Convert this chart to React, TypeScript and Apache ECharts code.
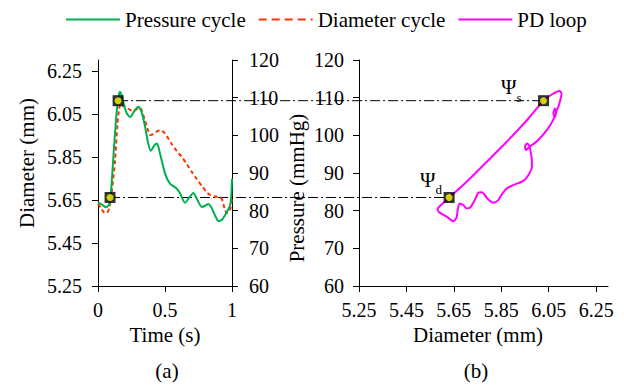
import React, { useEffect, useRef } from "react";
import * as echarts from "echarts";

// ---------- data ----------
const legendNames = ["Pressure cycle", "Diameter cycle", "PD loop"];

const pressureTime = [0, 0.03, 0.06, 0.085, 0.1, 0.12, 0.14, 0.155, 0.165, 0.175, 0.19, 0.215, 0.24, 0.27, 0.3, 0.325, 0.35, 0.375, 0.395, 0.42, 0.44, 0.46, 0.5, 0.537, 0.587, 0.612, 0.649, 0.68, 0.711, 0.74, 0.774, 0.8, 0.823, 0.85, 0.875, 0.9, 0.925, 0.948, 0.975, 0.987, 0.995, 1.0];
const pressureValues = [82.2, 81.6, 80.9, 81.8, 86.5, 97, 106.5, 110.6, 111.6, 110.8, 108.7, 105.8, 104.9, 106.4, 107.6, 106.2, 102.5, 97.8, 95.9, 97.3, 97.8, 95.6, 89.9, 87.2, 85.9, 84.6, 82.1, 83.4, 84.7, 83.0, 81.0, 81.3, 81.8, 80.6, 78.6, 77.2, 77.6, 78.8, 80.5, 81.6, 84.3, 88.5];

const diameterTime = [0, 0.025, 0.045, 0.065, 0.085, 0.105, 0.127, 0.145, 0.158, 0.17, 0.19, 0.214, 0.24, 0.264, 0.29, 0.313, 0.33, 0.351, 0.37, 0.388, 0.41, 0.44, 0.463, 0.49, 0.512, 0.55, 0.587, 0.625, 0.662, 0.7, 0.737, 0.775, 0.811, 0.84, 0.873, 0.9, 0.923, 0.945, 0.96, 0.978, 0.99, 1.0];
const diameterValues = [5.632, 5.61, 5.592, 5.589, 5.615, 5.7, 5.832, 6.0, 6.075, 6.097, 6.085, 6.078, 6.068, 6.063, 6.072, 6.078, 6.06, 6.017, 5.98, 5.952, 5.955, 5.968, 5.974, 5.965, 5.947, 5.91, 5.878, 5.85, 5.817, 5.78, 5.747, 5.715, 5.686, 5.672, 5.666, 5.662, 5.655, 5.61, 5.589, 5.595, 5.616, 5.655];

const loopDiameter = [5.627, 5.704, 5.789, 5.873, 5.958, 6.028, 6.07, 6.095, 6.104, 6.091, 6.084, 6.076, 6.07, 6.076, 6.081, 6.064, 6.042, 6.005, 5.979, 5.967, 5.955, 5.95, 5.959, 5.969, 5.974, 5.979, 5.979, 5.964, 5.943, 5.901, 5.873, 5.853, 5.837, 5.817, 5.793, 5.768, 5.754, 5.738, 5.719, 5.704, 5.689, 5.674, 5.666, 5.662, 5.648, 5.62, 5.588, 5.581, 5.596, 5.627];
const loopPressure = [83.3, 87.7, 93.0, 98.3, 104.0, 109.2, 111.1, 111.8, 111.1, 107.6, 106.7, 104.8, 105.9, 107.1, 106.2, 103.5, 101.4, 98.7, 97.4, 96.9, 96.1, 97.0, 97.8, 97.1, 95.5, 93.4, 91.6, 89.4, 87.9, 86.8, 85.9, 84.4, 82.8, 82.1, 83.1, 84.9, 84.8, 82.8, 80.8, 80.6, 81.5, 81.9, 80.2, 78.3, 77.2, 78.4, 79.6, 80.4, 81.5, 83.3];

// characteristic points: [diastolic, systolic]
const psiSubscripts = ["d", "s"];
const psiTime = [0.09, 0.15];
const psiPressure = [83.5, 109.2];
const psiDiameter = [5.63, 6.028];

const diameterTicks = [5.25, 5.45, 5.65, 5.85, 6.05, 6.25];
const panelLabels = ["(a)", "(b)"];

// ---------- style ----------
const FONT = "Liberation Serif";
const GREEN = "#00B050";
const RED = "#FF3300";
const MAGENTA = "#FF00FF";

const zip = (a: number[], b: number[]) => a.map((v, i) => [v, b[i]]);

const tickRich = { t: { color: "#000", fontFamily: FONT, fontSize: 20, fontWeight: "normal" as const } };
const nameRich = { t: { color: "#000", fontFamily: FONT, fontSize: 21, fontWeight: "normal" as const } };
const wrap = (s: string) => `{t|${s}}`;

const baseAxis = (gridIndex: number) => ({
  gridIndex,
  type: "value" as const,
  axisLine: { show: true, onZero: false, lineStyle: { color: "#000", width: 1 } },
  axisTick: { show: true, inside: false, length: 6, lineStyle: { color: "#000", width: 1 } },
  splitLine: { show: false },
});

const tickLabel = (margin: number, decimals: number | null, custom?: number[]) => ({
  margin,
  color: "#000",
  fontFamily: FONT,
  fontSize: 20,
  rich: tickRich,
  ...(custom ? { customValues: custom } : {}),
  formatter: (v: number) => wrap(decimals === null ? String(v) : v.toFixed(decimals)),
});

const axisName = (padding: number[]) => ({
  color: "#000",
  fontFamily: FONT,
  fontSize: 21,
  fontWeight: "normal" as const,
  padding,
  rich: nameRich,
});

export default function App() {
  const ref = useRef<HTMLDivElement>(null);

  useEffect(() => {
    if (!ref.current) return;
    const chart = echarts.init(ref.current, undefined, { renderer: "svg" });

    const markerSeries = (xAxisIndex: number, yAxisIndex: number, xs: number[]) => [
      {
        type: "scatter",
        xAxisIndex,
        yAxisIndex,
        symbol: "rect",
        symbolSize: 11,
        itemStyle: { color: "#000" },
        z: 5,
        data: zip(xs, psiPressure),
      },
      {
        type: "scatter",
        xAxisIndex,
        yAxisIndex,
        symbol: "circle",
        symbolSize: 7,
        itemStyle: { color: "#FFFF00" },
        z: 6,
        data: zip(xs, psiPressure),
      },
    ];

    const option: any = {
      animation: false,
      textStyle: { fontFamily: FONT },
      legend: {
        left: 65,
        top: 9,
        padding: 0,
        itemWidth: 54,
        itemHeight: 14,
        itemGap: 12,
        itemStyle: { opacity: 0 },
        formatter: (n: string) => wrap(n),
        textStyle: { color: "#000", fontFamily: FONT, fontSize: 21, rich: nameRich },
        data: [
          { name: legendNames[0] },
          { name: legendNames[1], lineStyle: { type: [8, 5] } },
          { name: legendNames[2] },
        ],
      },
      grid: [
        { left: 98, top: 60, width: 134, height: 226 },
        { left: 359, top: 60, width: 249, height: 226 },
      ],
      xAxis: [
        {
          ...baseAxis(0),
          min: 0,
          max: 1,
          interval: 0.5,
          axisLabel: tickLabel(14, null),
          name: wrap("Time (s)"),
          nameLocation: "middle",
          nameGap: 36,
          nameTextStyle: axisName([0, 0, 0, 0]),
        },
        {
          ...baseAxis(1),
          min: 5.25,
          max: 6.3,
          axisTick: { ...baseAxis(1).axisTick, customValues: diameterTicks },
          axisLabel: tickLabel(14, 2, diameterTicks),
          name: wrap("Diameter (mm)"),
          nameLocation: "middle",
          nameGap: 36,
          nameTextStyle: axisName([0, 11, 0, 0]),
        },
      ],
      yAxis: [
        {
          ...baseAxis(0),
          position: "left",
          min: 5.25,
          max: 6.3,
          axisTick: { ...baseAxis(0).axisTick, customValues: diameterTicks },
          axisLabel: tickLabel(16, 2, diameterTicks),
          name: wrap("Diameter (mm)"),
          nameLocation: "middle",
          nameGap: 61,
          nameTextStyle: axisName([0, 0, 0, 20]),
        },
        {
          ...baseAxis(0),
          position: "right",
          min: 60,
          max: 120,
          interval: 10,
          axisLabel: tickLabel(17, null),
        },
        {
          ...baseAxis(1),
          position: "left",
          min: 60,
          max: 120,
          interval: 10,
          axisLabel: tickLabel(15, null),
          name: wrap("Pressure (mmHg)"),
          nameLocation: "middle",
          nameGap: 52,
          nameTextStyle: axisName([0, 30, 0, 0]),
        },
      ],
      series: [
        {
          name: legendNames[0],
          type: "line",
          xAxisIndex: 0,
          yAxisIndex: 1,
          data: zip(pressureTime, pressureValues),
          smooth: 0.25,
          symbol: "none",
          color: GREEN,
          lineStyle: { color: GREEN, width: 2 },
          z: 3,
        },
        {
          name: legendNames[1],
          type: "line",
          xAxisIndex: 0,
          yAxisIndex: 0,
          data: zip(diameterTime, diameterValues),
          smooth: 0.25,
          symbol: "none",
          color: RED,
          lineStyle: { color: RED, width: 2, type: [4, 3] },
          z: 2,
        },
        {
          name: legendNames[2],
          type: "line",
          xAxisIndex: 1,
          yAxisIndex: 2,
          data: zip(loopDiameter, loopPressure),
          smooth: 0.25,
          symbol: "none",
          color: MAGENTA,
          lineStyle: { color: MAGENTA, width: 2 },
          z: 3,
        },
        ...markerSeries(0, 1, psiTime),
        ...markerSeries(1, 2, psiDiameter),
      ],
    };

    chart.setOption(option);

    // dash-dot reference lines and Ψ labels placed through the axes' scales
    const graphics: any[] = [];
    const labelOffsets = [
      [-7, -1],
      [-22, 3],
    ];
    psiPressure.forEach((p, i) => {
      const a = chart.convertToPixel({ xAxisIndex: 0, yAxisIndex: 1 } as any, [psiTime[i], p]) as number[];
      const b = chart.convertToPixel({ xAxisIndex: 1, yAxisIndex: 2 } as any, [psiDiameter[i], p]) as number[];
      graphics.push({
        type: "line",
        z: 1,
        shape: { x1: a[0], y1: a[1], x2: b[0], y2: b[1] },
        style: { stroke: "#000", lineWidth: 1, lineDash: [10, 3, 2, 3] },
      });
      graphics.push({
        type: "text",
        z: 10,
        x: b[0] + labelOffsets[i][0],
        y: b[1] + labelOffsets[i][1],
        style: {
          text: "{a|Ψ}{b|" + psiSubscripts[i] + "}",
          align: "right",
          verticalAlign: "bottom",
          rich: {
            a: { fontSize: 21, fontFamily: FONT, fill: "#000", lineHeight: 21, verticalAlign: "top" },
            b: { fontSize: 13, fontFamily: FONT, fill: "#000", lineHeight: 27, verticalAlign: "bottom" },
          },
        },
      });
    });
    const gridCenters = [167, 476];
    panelLabels.forEach((t, i) => {
      graphics.push({
        type: "text",
        x: gridCenters[i],
        y: 371,
        style: {
          text: t,
          fontFamily: FONT,
          fontSize: 21,
          fill: "#000",
          align: "center",
          verticalAlign: "middle",
        },
      });
    });
    chart.setOption({ graphic: graphics });

    return () => chart.dispose();
  }, []);

  return (
    <div
      ref={ref}
      style={{ position: "absolute", left: 0, top: 0, width: 624, height: 385, background: "#fff" }}
    />
  );
}
